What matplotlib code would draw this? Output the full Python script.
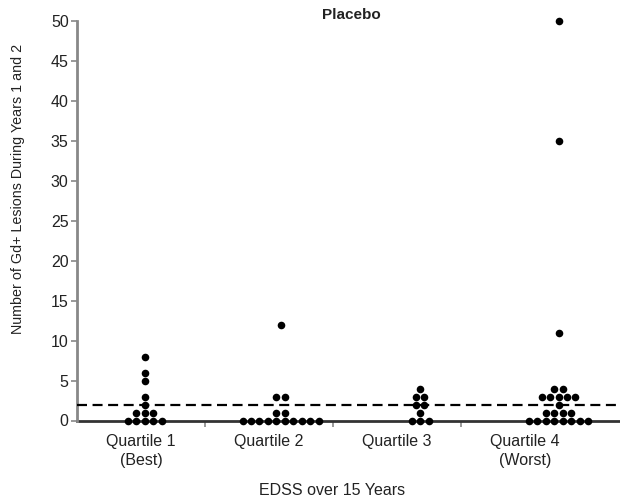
import matplotlib
matplotlib.use("Agg")
import matplotlib.pyplot as plt
import numpy as np

plt.rcParams['font.family'] = ['Liberation Sans', 'DejaVu Sans']

categories = ["Quartile 1\n(Best)", "Quartile 2", "Quartile 3", "Quartile 4\n(Worst)"]
q1 = [8, 6, 5, 3, 2, 1, 1, 1, 0, 0, 0, 0, 0]
q2 = [12, 3, 3, 1, 1, 0, 0, 0, 0, 0, 0, 0, 0, 0, 0]
q3 = [4, 3, 3, 2, 2, 1, 0, 0, 0]
q4 = [50, 35, 11, 4, 4, 3, 3, 3, 3, 3, 2, 1, 1, 1, 1, 0, 0, 0, 0, 0, 0, 0, 0]
groups = [q1, q2, q3, q4]
threshold = 2
yticks = list(range(0, 51, 5))

# layout
group_centers = [1.03, 2.09, 3.18, 4.26]
spacing = 0.066

fig = plt.figure(figsize=(6.2, 5.01), dpi=100)
ax = fig.add_axes([77/620, 1 - 420.5/501, 1 - 77/620, (420.5 - 21)/501])

for c, vals in zip(group_centers, groups):
    vals = np.array(vals)
    xs, ys = [], []
    for v in sorted(set(vals.tolist())):
        n = int((vals == v).sum())
        for j in range(n):
            xs.append(c + (j - (n - 1) / 2) * spacing)
            ys.append(v)
    ax.scatter(xs, ys, s=30, color='black', zorder=4, clip_on=False, linewidths=0)

ax.axhline(threshold, color='black', lw=1.6, dashes=(4.5, 2.5), zorder=3)

ax.set_xlim(0.5, 4.74)
ax.set_ylim(0, 50)
ax.set_yticks(yticks)
ax.set_xticks([1, 2, 3, 4])
ax.set_xticklabels(categories, fontsize=11.5, color='#222222', linespacing=1.3)
ax.set_xticks([1.5, 2.5, 3.5], minor=True)
ax.tick_params(axis='x', which='major', length=0, pad=10)
ax.tick_params(axis='x', which='minor', length=4, width=1.2, color='#888888', direction='out')
ax.tick_params(axis='y', length=4, width=1.2, color='#888888', direction='out', pad=2,
               labelsize=11.5, labelcolor='#222222')

for s in ['top', 'right']:
    ax.spines[s].set_visible(False)
ax.spines['left'].set_color('#888888')
ax.spines['left'].set_linewidth(2)
ax.spines['bottom'].set_color('#333333')
ax.spines['bottom'].set_linewidth(2)
ax.spines['bottom'].set_zorder(2)

ax.set_ylabel("Number of Gd+ Lesions During Years 1 and 2", fontsize=10.3, color='#222222')
ax.yaxis.set_label_coords(-0.096, 0.58)
ax.set_xlabel("EDSS over 15 Years", fontsize=11.5, color='#222222')
ax.xaxis.set_label_coords(0.47, -0.175)
ax.xaxis.label.set_va('center')
ax.text(0.505, 1.015, "Placebo", transform=ax.transAxes, ha='center', va='center',
        fontsize=11, fontweight='bold', color='#222222')

fig.savefig("out.png", dpi=100)
